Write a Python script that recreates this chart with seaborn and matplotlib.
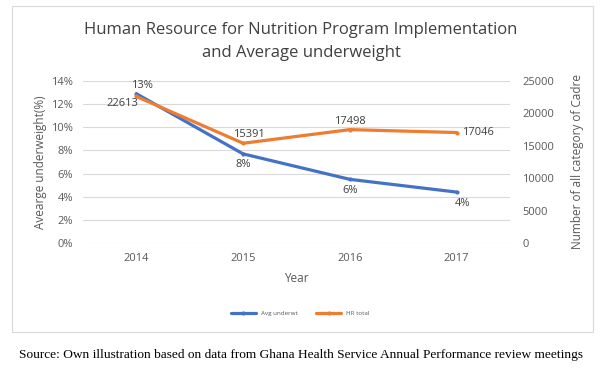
import matplotlib
matplotlib.use("Agg")
import matplotlib.pyplot as plt
import seaborn as sns
import pandas as pd
from matplotlib.patches import Rectangle

years = ["2014", "2015", "2016", "2017"]
avg_underwt = [12.9, 7.7, 5.5, 4.4]
avg_labels = ["13%", "8%", "6%", "4%"]
hr_total = [22613, 15391, 17498, 17046]
left_ticks = [0, 2, 4, 6, 8, 10, 12, 14]
right_ticks = [0, 5000, 10000, 15000, 20000, 25000]

sns.set_theme(style="white")
plt.rcParams['font.family'] = ['Open Sans', 'DejaVu Sans']

BLUE = "#4472C4"
ORANGE = "#ED7D31"
GRAY = "#595959"

fig = plt.figure(figsize=(6.02, 3.71), dpi=100)
W, H = 602, 371
ax = fig.add_axes([83 / W, 1 - 243 / H, (510 - 83) / W, (243 - 81) / H])
ax2 = ax.twinx()

df = pd.DataFrame({"year": years, "avg": avg_underwt, "hr": hr_total})
df["x"] = range(len(years))

sns.lineplot(data=df, x="x", y="avg", ax=ax, color=BLUE, lw=2.3, marker="o",
             markersize=3, markeredgewidth=0, label="Avg underwt", legend=False)
sns.lineplot(data=df, x="x", y="hr", ax=ax2, color=ORANGE, lw=2.3, marker="o",
             markersize=3, markeredgewidth=0, label="HR total", legend=False)

ax.set_xlim(-0.5, 3.5)
ax.set_ylim(0, 14)
ax2.set_ylim(0, 25000)
ax.set_xticks(range(len(years)))
ax.set_xticklabels(years)
ax.set_yticks(left_ticks)
ax.set_yticklabels([f"{t}%" for t in left_ticks])
ax2.set_yticks(right_ticks)
ax2.set_yticklabels([str(t) for t in right_ticks])
ax.grid(axis="y", color="#D9D9D9", lw=0.8)
ax.set_axisbelow(True)
for a in (ax, ax2):
    for s in a.spines.values():
        s.set_visible(False)
    a.tick_params(length=0, labelsize=8, labelcolor=GRAY)
ax.tick_params(axis="y", pad=7)
ax2.tick_params(axis="y", pad=9)
ax.tick_params(axis="x", pad=7)

ax.set_xlabel("Year", fontsize=8.5, color=GRAY, labelpad=6)
ax.set_ylabel("Avearge underweight(%)", fontsize=8.5, color=GRAY, labelpad=3)
ax2.set_ylabel("Number of all category of Cadre", fontsize=8.5, color=GRAY, labelpad=12)

# data labels
lab_kw = dict(fontsize=8, color="#404040")
ax.annotate(avg_labels[0], (0, avg_underwt[0]), xytext=(4, 2), textcoords="offset points",
            ha="center", va="bottom", **lab_kw)
ax.annotate(avg_labels[1], (1, avg_underwt[1]), xytext=(0, -4), textcoords="offset points",
            ha="center", va="top", **lab_kw)
ax.annotate(avg_labels[2], (2, avg_underwt[2]), xytext=(0, -4), textcoords="offset points",
            ha="center", va="top", **lab_kw)
ax.annotate(avg_labels[3], (3, avg_underwt[3]), xytext=(4, -4), textcoords="offset points",
            ha="center", va="top", **lab_kw)
ax2.annotate(str(hr_total[0]), (0, hr_total[0]), xytext=(-10, -1), textcoords="offset points",
             ha="center", va="top", **lab_kw)
ax2.annotate(str(hr_total[1]), (1, hr_total[1]), xytext=(4, 2), textcoords="offset points",
             ha="center", va="bottom", **lab_kw)
ax2.annotate(str(hr_total[2]), (2, hr_total[2]), xytext=(0, 2), textcoords="offset points",
             ha="center", va="bottom", **lab_kw)
ax2.annotate(str(hr_total[3]), (3, hr_total[3]), xytext=(4, 0), textcoords="offset points",
             ha="left", va="center", **lab_kw)

fig.suptitle("Human Resource for Nutrition Program Implementation\nand Average underweight",
             x=0.5, y=1 - 22 / H, fontsize=12, color="#404040", va="top", linespacing=1.55)

h1, l1 = ax.get_legend_handles_labels()
h2, l2 = ax2.get_legend_handles_labels()
fig.legend(h1 + h2, l1 + l2, loc="center", bbox_to_anchor=(300 / W, 1 - 313 / H), ncol=2,
           frameon=False, fontsize=4.5, handlelength=4, columnspacing=3,
           labelcolor=GRAY)

fig.patches.append(Rectangle((12 / W, 1 - 332 / H), (593 - 12) / W, (332 - 6) / H,
                             transform=fig.transFigure, fill=False, ec="#D9D9D9", lw=0.8))
fig.text(0.5, 1 - 355 / H,
         "Source: Own illustration based on data from Ghana Health Service Annual Performance review meetings",
         ha="center", va="center", fontsize=9.6, family=["Liberation Serif"], color="black")

fig.savefig("out.png", dpi=100)
